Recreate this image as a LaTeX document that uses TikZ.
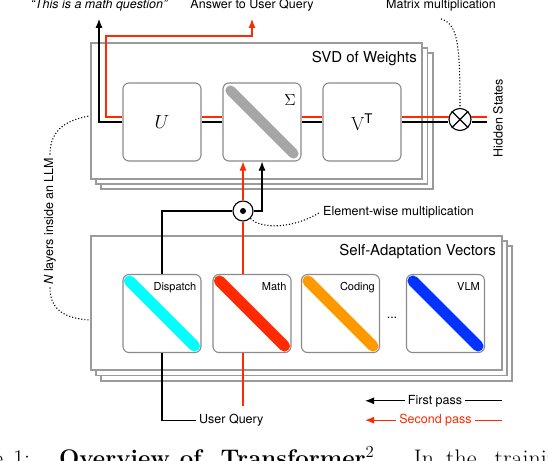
\RequirePackage{fix-cm}
\documentclass[tikz,border=0pt]{standalone}
\usepackage{amsmath}
\usepackage{fontspec}
\newfontfamily\helv{TeX Gyre Heros}
\usepackage{tikz}
\usetikzlibrary{calc,arrows.meta}
\definecolor{frame}{HTML}{9A9A9A}
\definecolor{inner}{HTML}{8A8A8A}
\definecolor{redpass}{HTML}{FF2A00}
\definecolor{sigbar}{HTML}{A6A6A6}
\definecolor{dispc}{HTML}{00FFFF}
\definecolor{mathc}{HTML}{FF2A00}
\definecolor{codec}{HTML}{FF9900}
\definecolor{vlmc}{HTML}{0033FF}
\tikzset{
  stack/.style={draw=frame, fill=white, line width=1.2pt},
  mat/.style={draw=inner, fill=white, line width=1.1pt, rounded corners=6pt, minimum size=78pt, inner sep=0pt},
  bar/.style={line width=11pt, line cap=round},
  first/.style={draw=black, line width=1.1pt},
  second/.style={draw=redpass, line width=1.1pt},
  tip/.style={-{Latex[length=9pt,width=7pt]}},
  note/.style={draw=black, dotted, line width=1.1pt},
  op/.style={circle, draw=black, fill=white, line width=1.1pt, minimum size=22pt, inner sep=0pt},
  title/.style={font=\helv\fontsize{15}{18}\selectfont, inner sep=0pt},
  lab/.style={font=\helv\fontsize{12.5}{15}\selectfont, inner sep=3pt},
  toplab/.style={lab, inner ysep=7pt},
  boxlab/.style={font=\helv\fontsize{11}{13}\selectfont, inner sep=0pt},
  caption/.style={font=\fontsize{24}{28}\selectfont, inner sep=0pt},
}

\begin{document}
\begin{tikzpicture}[x=1pt,y=-1pt]
  \useasboundingbox (0,0) rectangle (548,460);

  % SVD of weights, one per layer
  \draw[stack] (101,53) rectangle (433,189);
  \draw[stack] (96,48) rectangle (427.5,184);
  \draw[stack] (91,43) rectangle (422,179);
  \node[title,anchor=base east] (svd) at (417,63) {SVD of Weights};

  \node[mat,font=\fontsize{19}{22}\selectfont] (u) at (162,122) {$U$};
  \node[mat] (sig) at (262,122) {};
  \draw[bar,draw=sigbar,line width=10pt] ([shift={(8,8)}]sig.north west) -- ([shift={(-8,-8)}]sig.south east);
  \node[font=\fontsize{16}{18}\selectfont] (sigl) at (290,100) {$\Sigma$};
  \node[mat,font=\fontsize{19}{22}\selectfont] (vt) at (362,122) {$\mathrm{V}^{\text{\helv T}}$};

  \node[op] (mul) at (460,119.5) {};
  \draw[line width=1.1pt] (mul.north west) -- (mul.south east) (mul.north east) -- (mul.south west);
  \node[lab,rotate=90] (hs) at (498,118) {Hidden States};
  \coordinate (hsb) at (487,122);
  \coordinate (hsr) at (487,117);
  \coordinate (mulr) at (449,117);
  \coordinate (mulr2) at (471,117);

  % self-adaptation vectors
  \draw[stack] (101,246) rectangle (512,381);
  \draw[stack] (96,241) rectangle (507,375.5);
  \draw[stack] (91,236) rectangle (502,370);
  \node[title,anchor=base east] (sav) at (496,255) {Self-Adaptation Vectors};

  \node[mat] (disp) at (162,313.5) {};
  \node[mat] (math) at (252,313.5) {};
  \node[mat] (code) at (340.5,313.5) {};
  \node[mat] (vlm) at (445.5,313.5) {};
  \draw[bar,draw=dispc] ([shift={(7,7)}]disp.north west) -- ([shift={(-7,-7)}]disp.south east);
  \draw[bar,draw=mathc] ([shift={(7,7)}]math.north west) -- ([shift={(-7,-7)}]math.south east);
  \draw[bar,draw=codec] ([shift={(7,7)}]code.north west) -- ([shift={(-7,-7)}]code.south east);
  \draw[bar,draw=vlmc] ([shift={(7,7)}]vlm.north west) -- ([shift={(-7,-7)}]vlm.south east);
  \node[boxlab,anchor=base east] (displ) at ([shift={(-5,17)}]disp.north east) {Dispatch};
  \node[boxlab,anchor=base east] (mathl) at ([shift={(-5,17)}]math.north east) {Math};
  \node[boxlab,anchor=base east] (codel) at ([shift={(-5,17)}]code.north east) {Coding};
  \node[boxlab,anchor=base east] (vlml) at ([shift={(-5,17)}]vlm.north east) {VLM};
  \node[lab,anchor=base] (dots) at (392,318) {...};

  \node[op,minimum size=20pt] (ewm) at (243,211) {};
  \fill (ewm) circle (3);

  % labels round the layers
  \node[toplab,font=\helv\itshape\fontsize{12.5}{15}\selectfont,anchor=base] (q) at (99,9) {“This is a math question”};
  \node[toplab,anchor=base] (ans) at (252,9) {Answer to User Query};
  \node[toplab,anchor=base] (mml) at (441,9) {Matrix multiplication};
  \node[lab,anchor=base west] (ewl) at (320,215.5) {Element-wise multiplication};
  \node[lab,rotate=90] (nl) at (50,221) {{\itshape N} layers inside an LLM};
  \node[lab,anchor=base west] (uq) at (196,423.5) {User Query};
  \node[lab,anchor=base] (fp) at (435,404) {First pass};
  \node[lab,anchor=base,text=redpass] (sp) at (435.5,423.5) {Second pass};
  \coordinate (legl) at (365,0);
  \coordinate (legr) at (502,0);
  \coordinate (rbend) at (106,36);
  \coordinate (rq) at (243,406);
  \coordinate (svdl) at (89,116);
  \coordinate (savl) at (89,320);

  % first pass
  \draw[first,tip] (u.west) -| (q.south);
  \draw[first] (u.east) -- (sig.west);
  \draw[first] (sig.east) -- (vt.west);
  \draw[first] (vt.east) -- (vt.east -| mul.west);
  \draw[first] (mul.east |- vt.east) -- (hsb);
  \draw[first] (disp.north) |- (ewm.west);
  \draw[first,tip] (ewm.east) -| (sig.south);
  \draw[first] (disp.south) |- (uq.west);

  % second pass
  \draw[second,tip] ([yshift=5pt]u.west) -| (rbend) -| (ans.south);
  \draw[second] ([yshift=5pt]u.east) -- ([yshift=5pt]sig.west);
  \draw[second] ([yshift=5pt]sig.east) -- ([yshift=5pt]vt.west);
  \draw[second] ([yshift=5pt]vt.east) -- (mulr);
  \draw[second] (mulr2) -- (hsr);
  \draw[second] (rq) -- (rq |- math.south);
  \draw[second] (rq |- math.north) -- (ewm.south);
  \draw[second,tip] (ewm.north) -- (ewm |- sig.south);

  % legend
  \draw[first,tip] (fp.west) -- (fp.west -| legl);
  \draw[first] (fp.east) -- (fp.east -| legr);
  \draw[second,tip] (sp.west) -- (sp.west -| legl);
  \draw[second] (sp.east) -- (sp.east -| legr);

  % dotted notes
  \draw[note] (nl.east) .. controls (50,133) and (62,121) .. (svdl);
  \draw[note] (nl.west) .. controls (50,308) and (62,318) .. (savl);
  \draw[note] (ewm.south east) .. controls (262,230) and (295,228) .. (ewl.west);
  \draw[note] (mml.south) .. controls (458,24) and (460,45) .. (mul.north);

  % caption, cut by the page as in the source
  \node[caption,anchor=base west] (cap) at (-59,466.5) {Figure\hspace{10pt}1:\hspace{29pt}\textbf{Overview\hspace{10pt}of\hspace{19pt}Transformer}$^{2}$\textbf{.}\hspace{32pt}In\hspace{12pt}the\hspace{18pt}training};
\end{tikzpicture}
\end{document}
